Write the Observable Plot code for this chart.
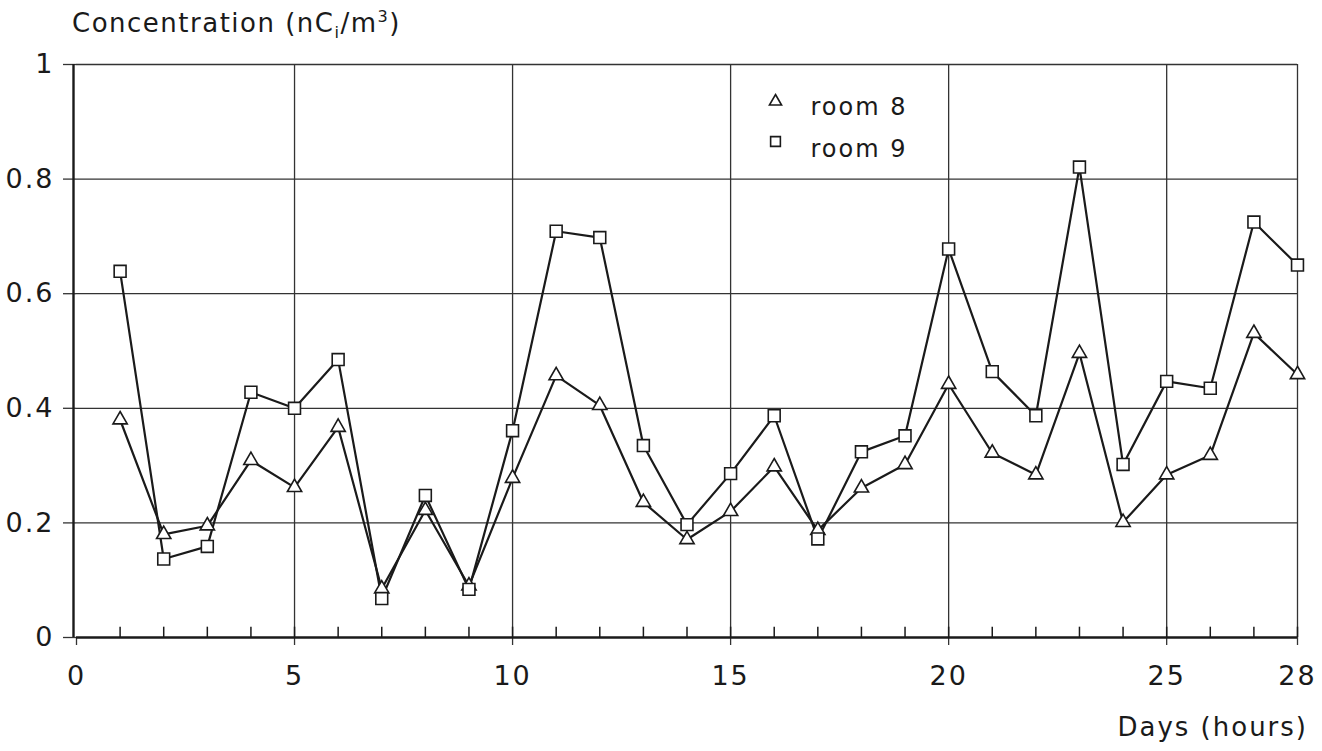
<!DOCTYPE html>
<html>
<head>
<meta charset="utf-8">
<script src="https://cdn.jsdelivr.net/npm/d3@7"></script>
<script src="https://cdn.jsdelivr.net/npm/@observablehq/plot@0.6"></script>
<style>
  body { margin: 0; background: #fff; }
  #wrap { position: relative; width: 1322px; height: 751px; font-family: "DejaVu Sans", Verdana, sans-serif; color: #1a1a1a; }
  #wrap svg { position: absolute; left: 0; top: 0; }
  .ttl { position: absolute; font-size: 26px; letter-spacing: 1.5px; line-height: 1; white-space: nowrap; }
  #ytitle { left: 72px; top: 10px; }
  #xtitle { right: 14px; top: 714px; letter-spacing: 2px; }
  sub, sup { font-size: 62%; line-height: 0; }
</style>
</head>
<body>
<div id="wrap">
  <div class="ttl" id="ytitle">Concentration (nC<sub>i</sub>/m<sup>3</sup>)</div>
  <div class="ttl" id="xtitle">Days (hours)</div>
</div>
<script>
// ---- data ----
const days = [1,2,3,4,5,6,7,8,9,10,11,12,13,14,15,16,17,18,19,20,21,22,23,24,25,26,27,28];
const room8 = [0.38,0.18,0.195,0.309,0.262,0.367,0.085,0.222,0.09,0.278,0.457,0.405,0.236,0.171,0.22,0.298,0.187,0.261,0.302,0.442,0.322,0.284,0.496,0.201,0.284,0.318,0.531,0.459];
const room9 = [0.639,0.137,0.159,0.428,0.40,0.485,0.068,0.248,0.084,0.361,0.709,0.698,0.335,0.197,0.286,0.387,0.172,0.324,0.352,0.678,0.464,0.387,0.821,0.302,0.447,0.435,0.725,0.65];
const seriesNames = ["room 8", "room 9"];
const seriesSymbols = ["triangle", "square"];
const xTicks = [0,5,10,15,20,25,28];
const xGrid = [5,10,15,20,25,28];
const yTicks = [0,0.2,0.4,0.6,0.8,1];
const yGrid = [0.2,0.4,0.6,0.8,1];

const rows8 = days.map((d,i) => ({day: d, value: room8[i]}));
const rows9 = days.map((d,i) => ({day: d, value: room9[i]}));

const ink = "#1a1a1a";
const gridInk = "#333";

const chart = Plot.plot({
  width: 1322,
  height: 751,
  marginLeft: 76,
  marginRight: 25,
  marginTop: 64,
  marginBottom: 114,
  style: {fontFamily: "'DejaVu Sans', Verdana, sans-serif", fontSize: "27px", letterSpacing: "2px", color: ink, background: "white"},
  x: {domain: [0, 28]},
  y: {domain: [0, 1]},
  marks: [
    Plot.gridY(yGrid, {stroke: gridInk, strokeOpacity: 1, strokeWidth: 1.3}),
    Plot.ruleX(xGrid, {y1: 0, y2: 1, stroke: gridInk, strokeWidth: 1.3}),
    Plot.ruleX(days, {y1: 0, y2: 0.018, stroke: ink, strokeWidth: 1.5}),
    Plot.axisY({ticks: yTicks, tickFormat: d => String(+d.toFixed(1)), tickSize: 13, tickPadding: 9, label: null, stroke: gridInk, strokeWidth: 1.3}),
    Plot.axisX({ticks: xTicks, tickFormat: d => String(d), tickSize: 8, tickPadding: 20, label: null, stroke: gridInk, strokeWidth: 1.3}),
    Plot.ruleX([0], {dx: -3, stroke: ink, strokeWidth: 2.4}),
    Plot.ruleY([0], {stroke: ink, strokeWidth: 2.4}),
    Plot.line(rows8, {x: "day", y: "value", stroke: ink, strokeWidth: 2.2}),
    Plot.line(rows9, {x: "day", y: "value", stroke: ink, strokeWidth: 2.2}),
    Plot.dot(rows8, {x: "day", y: "value", symbol: () => seriesSymbols[0], r: 5.3, fill: "white", stroke: ink, strokeWidth: 1.6}),
    Plot.dot(rows9, {x: "day", y: "value", symbol: () => seriesSymbols[1], r: 6.7, fill: "white", stroke: ink, strokeWidth: 1.6}),
    // legend
    Plot.dot([seriesNames[0]], {frameAnchor: "top-left", dx: 699, dy: 37, symbol: () => seriesSymbols[0], r: 4.5, fill: "white", stroke: ink, strokeWidth: 1.6}),
    Plot.dot([seriesNames[1]], {frameAnchor: "top-left", dx: 699, dy: 77, symbol: () => seriesSymbols[1], r: 5.5, fill: "white", stroke: ink, strokeWidth: 1.6}),
    Plot.text([seriesNames[0]], {frameAnchor: "top-left", dx: 734, dy: 33, text: d => d, textAnchor: "start", fill: ink, fontSize: 24, letterSpacing: "1px"}),
    Plot.text([seriesNames[1]], {frameAnchor: "top-left", dx: 734, dy: 75, text: d => d, textAnchor: "start", fill: ink, fontSize: 24})
  ]
});
document.getElementById("wrap").prepend(chart);
</script>
</body>
</html>
